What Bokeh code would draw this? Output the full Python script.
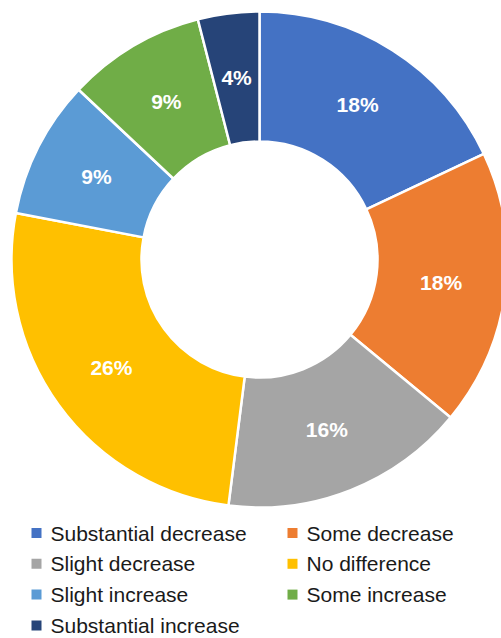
import numpy as np
from bokeh.plotting import figure
from bokeh.models import Range1d, ColumnDataSource
from bokeh.core.properties import value
from bokeh.embed import file_html
from bokeh.resources import INLINE

# Share of responses by category (percent)
categories = ["Substantial decrease", "Some decrease", "Slight decrease",
              "No difference", "Slight increase", "Some increase",
              "Substantial increase"]
shares = [18, 18, 16, 26, 9, 9, 4]
colors = ["#4472C4", "#ED7D31", "#A5A5A5", "#FFC000", "#5B9BD5", "#70AD47", "#264478"]

W, H = 501, 638
cx, cy = 259, H - 259          # ring centre (y measured upward)
r_in, r_out = 118, 248

frac = np.array(shares, dtype=float) / sum(shares)
cum_end = np.cumsum(frac)
cum_start = cum_end - frac
# clockwise from 12 o'clock
start_angle = np.pi / 2 - 2 * np.pi * cum_end
end_angle = np.pi / 2 - 2 * np.pi * cum_start
mid = 2 * np.pi * (cum_start + cum_end) / 2
r_lab = (r_in + r_out) / 2

src = ColumnDataSource(dict(
    start=start_angle, end=end_angle, color=colors,
    lx=cx + r_lab * np.sin(mid), ly=cy + r_lab * np.cos(mid),
    label=[f"{s}%" for s in shares],
))

p = figure(width=W, height=H, x_range=Range1d(0, W), y_range=Range1d(0, H),
           x_axis_type=None, y_axis_type=None, toolbar_location=None,
           output_backend="svg", min_border=0, outline_line_color=None)
p.grid.visible = False
p.background_fill_color = "white"
p.border_fill_color = "white"

p.annular_wedge(x=cx, y=cy, inner_radius=r_in, outer_radius=r_out,
                start_angle="start", end_angle="end", fill_color="color",
                line_color="white", line_width=2.5, source=src)

p.text(x="lx", y="ly", text="label", source=src, text_color="white",
       text_font=value("Liberation Sans"), text_font_style="bold",
       text_font_size="21px", text_align="center", text_baseline="middle")

# Legend: two columns, filled row by row
rows = np.arange(len(categories)) // 2
cols = np.arange(len(categories)) % 2
leg_y = H - (532.5 + 30.8 * rows)
sq_x = np.where(cols == 0, 36, 292)
txt_x = np.where(cols == 0, 50, 306)
leg = ColumnDataSource(dict(sx=sq_x, tx=txt_x, y=leg_y, color=colors, name=categories))
p.rect(x="sx", y="y", width=10, height=10, fill_color="color", line_color=None, source=leg)
p.text(x="tx", y="y", text="name", source=leg, text_color="#1a1a1a",
       text_font=value("Liberation Sans"), text_font_size="21px",
       text_baseline="middle")

open("out.html", "w").write(file_html(p, INLINE))
